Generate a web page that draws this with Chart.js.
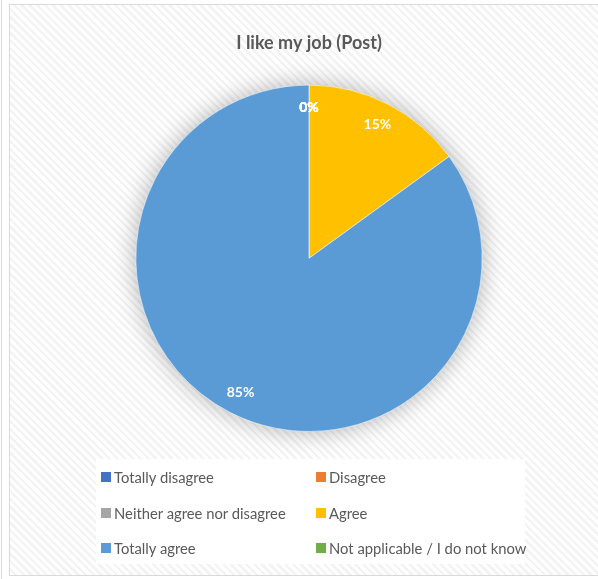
<!DOCTYPE html>
<html>
<head>
<meta charset="utf-8">
<script src="https://cdn.jsdelivr.net/npm/chart.js@4.4.1/dist/chart.umd.min.js"></script>
<style>
    html, body { margin: 0; padding: 0; background: #fff; }
    body { width: 598px; height: 579px; position: relative; overflow: hidden; font-family: Lato, "Open Sans", sans-serif; }
    .page-line { position: absolute; left: 1px; top: 0; width: 1px; height: 579px; background: #d9d9d9; }
    .chart-box {
        position: absolute; left: 9px; top: 4px; width: 592px; height: 570px;
        border: 1px solid #d9d9d9;
        background-color: #fff;
        background-image: repeating-linear-gradient(45deg, #fff 0px, #fff 3px, #f3f3f3 3px, #f3f3f3 5.5px);
    }
    .chart-box canvas { position: absolute; left: 0; top: 0; }
    .legend {
        position: absolute; left: 86px; top: 454px; width: 429px; height: 105px;
        background: #fff;
    }
    .legend-item {
        position: absolute; display: flex; align-items: center;
        font-size: 14.8px; color: #595959; white-space: nowrap; height: 20px;
    }
    .legend-item span.box { width: 10px; height: 10px; margin-right: 3px; display: inline-block; }
</style>
</head>
<body>
<div class="page-line"></div>
<div class="chart-box">
    <canvas id="job-chart" width="592" height="570"></canvas>
    <div class="legend" id="job-legend"></div>
</div>
<script>
    // Dữ liệu
    const answerLabels = ['Totally disagree', 'Disagree', 'Neither agree nor disagree', 'Agree', 'Totally agree', 'Not applicable / I do not know'];
    const answerPercents = [0, 0, 0, 15, 85, 0];
    const answerColors = ['#4472C4', '#ED7D31', '#A5A5A5', '#FFC000', '#5B9BD5', '#70AD47'];

    // Bóng mờ xung quanh hình tròn
    const pieShadow = {
        id: 'pieShadow',
        beforeDatasetsDraw(chart) {
            const arc = chart.getDatasetMeta(0).data[0];
            if (!arc) return;
            const ctx = chart.ctx;
            ctx.save();
            ctx.shadowColor = 'rgba(0, 0, 0, 0.3)';
            ctx.shadowBlur = 24;
            ctx.fillStyle = '#5B9BD5';
            ctx.beginPath();
            ctx.arc(arc.x, arc.y, arc.outerRadius, 0, Math.PI * 2);
            ctx.fill();
            ctx.restore();
        }
    };

    // Nhãn phần trăm trong lát bánh
    const sliceLabels = {
        id: 'sliceLabels',
        afterDatasetsDraw(chart) {
            const ctx = chart.ctx;
            const meta = chart.getDatasetMeta(0);
            ctx.save();
            ctx.font = 'bold 14px Lato, "Open Sans", sans-serif';
            ctx.fillStyle = '#fff';
            ctx.textAlign = 'center';
            ctx.textBaseline = 'middle';
            meta.data.forEach((arc, i) => {
                const mid = (arc.startAngle + arc.endAngle) / 2;
                const r = arc.outerRadius * 0.87;
                ctx.fillText(answerPercents[i] + '%', arc.x + Math.cos(mid) * r, arc.y + Math.sin(mid) * r);
            });
            ctx.restore();
        }
    };

    const ctx = document.getElementById('job-chart').getContext('2d');
    new Chart(ctx, {
        type: 'pie',
        data: {
            labels: answerLabels,
            datasets: [{
                data: answerPercents,
                backgroundColor: answerColors,
                borderColor: 'rgba(255,255,255,0.6)',
                borderWidth: 1
            }]
        },
        options: {
            responsive: false,
            animation: false,
            layout: { padding: { left: 125, right: 119, top: 0, bottom: 143 } },
            plugins: {
                legend: { display: false },
                tooltip: { enabled: false },
                title: {
                    display: true,
                    text: 'I like my job (Post)',
                    color: '#595959',
                    font: { family: 'Lato, "Open Sans", sans-serif', size: 18, weight: 'bold' },
                    padding: { top: 27, bottom: 31 }
                }
            }
        },
        plugins: [pieShadow, sliceLabels]
    });

    // Chú giải dạng lưới 2 cột
    const legendEl = document.getElementById('job-legend');
    answerLabels.forEach((label, i) => {
        const col = i % 2, row = Math.floor(i / 2);
        const item = document.createElement('div');
        item.className = 'legend-item';
        item.style.left = (col === 0 ? 5 : 220) + 'px';
        item.style.top = (8 + row * 35.5) + 'px';
        item.innerHTML = '<span class="box" style="background:' + answerColors[i] + '"></span>';
        item.appendChild(document.createTextNode(label));
        legendEl.appendChild(item);
    });
</script>
</body>
</html>
